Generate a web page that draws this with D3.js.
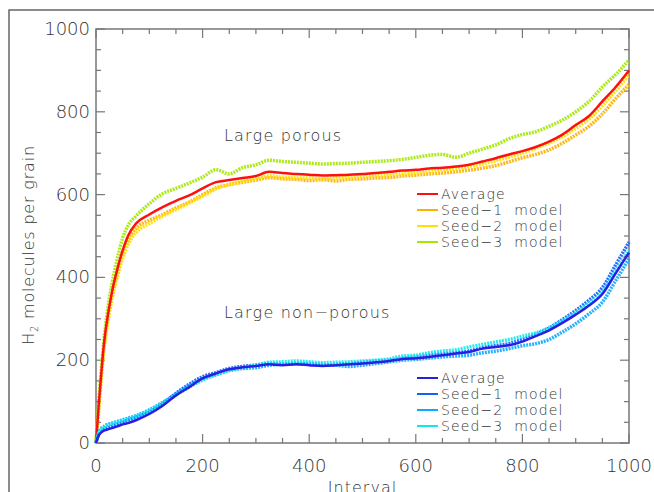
<!DOCTYPE html>
<html>
<head>
<meta charset="utf-8">
<script src="https://cdn.jsdelivr.net/npm/d3@7"></script>
<style>
  body { margin: 0; background: #fff; }
  text { font-family: 'DejaVu Sans', sans-serif; font-weight: 200; fill: #333; }
</style>
</head>
<body>
<div id="chart"></div>
<script>
var intervals = [0,5,10,15,20,30,40,50,60,75,100,125,150,175,200,225,250,275,300,325,350,375,400,425,450,475,500,525,550,575,600,625,650,675,700,725,750,775,800,825,850,875,900,925,950,975,1000];

// Large porous
var porousAvg   = [0,90,170,240,290,365,420,465,500,530,552,570,585,598,615,630,635,640,645,655,652,650,648,646,647,648,650,652,655,658,660,663,665,668,672,680,688,697,705,715,728,745,768,790,825,860,900];
var porousSeed1 = [0,85,165,232,280,355,410,455,488,518,538,552,568,582,600,616,624,630,635,641,638,637,634,636,633,637,638,640,641,645,647,650,652,655,659,664,670,679,689,697,708,724,744,765,795,832,866];
var porousSeed2 = [0,80,160,228,275,348,402,446,478,508,530,548,564,580,596,614,624,632,638,645,642,640,640,638,641,642,645,645,648,650,652,655,660,662,668,674,682,690,700,712,725,740,760,782,815,850,890];
var porousSeed3 = [0,95,178,248,305,385,445,495,525,548,578,602,615,628,642,660,650,665,672,683,680,678,676,674,675,676,678,680,682,685,690,695,697,690,700,710,720,735,745,752,765,780,800,825,860,890,925];

// Large non-porous
var nonporAvg   = [0,18,26,30,32,36,40,45,48,55,70,90,115,135,156,168,178,183,186,190,188,190,188,186,188,190,192,195,198,203,205,208,212,216,220,228,232,236,245,258,272,290,310,332,360,410,460];
var nonporSeed1 = [0,20,28,33,36,40,45,50,55,62,75,95,120,142,160,170,180,185,188,192,190,192,190,188,190,192,195,198,200,205,208,212,215,218,222,230,235,240,250,262,278,298,320,345,375,430,485];
var nonporSeed2 = [0,25,35,40,44,48,52,56,60,66,80,98,118,138,155,165,175,180,182,188,190,192,192,190,188,185,188,192,196,200,202,205,208,210,212,218,222,228,235,240,250,268,288,312,340,392,445];
var nonporSeed3 = [0,24,34,38,42,46,50,54,58,64,78,95,116,135,152,165,176,182,188,195,196,198,196,194,195,196,198,200,203,210,212,218,222,225,232,238,244,250,258,266,278,295,315,338,365,415,465];

var legendLabels = ['Average', 'Seed\u22121  model', 'Seed\u22122  model', 'Seed\u22123  model'];
var porousColors = ['#ff1010', '#ffb000', '#ffe000', '#a4e800'];
var nonporColors = ['#2a1ee0', '#1060ff', '#10a8ff', '#10e8f0'];

var W = 654, H = 492;
var x0 = 96, x1 = 629, yTop = 29, yBot = 443;

var svg = d3.select('#chart').append('svg')
  .attr('width', W)
  .attr('height', H);

// outer frame (only top and left edges are visible)
svg.append('path')
  .attr('d', 'M9,492V10H654')
  .attr('fill', 'none')
  .attr('stroke', '#666')
  .attr('stroke-width', 1.5);

var x = d3.scaleLinear().domain([0, 1000]).range([x0, x1]);
var y = d3.scaleLinear().domain([0, 1000]).range([yBot, yTop]);

var tickG = svg.append('g').attr('stroke', '#777').attr('stroke-width', 1.2);
var minor = d3.range(0, 1001, 50);
minor.forEach(function(v) {
  var len = (v % 200 === 0) ? 9 : 5;
  tickG.append('line').attr('x1', x(v)).attr('x2', x(v)).attr('y1', yBot).attr('y2', yBot - len);
  tickG.append('line').attr('x1', x(v)).attr('x2', x(v)).attr('y1', yTop).attr('y2', yTop + len);
  tickG.append('line').attr('x1', x0).attr('x2', x0 + len).attr('y1', y(v)).attr('y2', y(v));
  tickG.append('line').attr('x1', x1).attr('x2', x1 - len).attr('y1', y(v)).attr('y2', y(v));
});

svg.append('rect')
  .attr('x', x0).attr('y', yTop)
  .attr('width', x1 - x0).attr('height', yBot - yTop)
  .attr('fill', 'none')
  .attr('stroke', '#777')
  .attr('stroke-width', 1.5);

var major = d3.range(0, 1001, 200);
svg.selectAll('.xl').data(major).enter().append('text')
  .attr('x', function(d) { return x(d); })
  .attr('y', yBot + 29)
  .attr('text-anchor', 'middle')
  .attr('font-size', 18)
  .text(function(d) { return d; });

svg.selectAll('.yl').data(major).enter().append('text')
  .attr('x', x0 - 6)
  .attr('y', function(d) { return y(d) + 6; })
  .attr('text-anchor', 'end')
  .attr('font-size', 18)
  .text(function(d) { return d; });

svg.append('text')
  .attr('x', (x0 + x1) / 2)
  .attr('y', 493)
  .attr('text-anchor', 'middle')
  .attr('font-size', 16)
  .attr('letter-spacing', 1)
  .text('Interval');

var yt = svg.append('text')
  .attr('transform', 'translate(34,' + 245 + ') rotate(-90)')
  .attr('text-anchor', 'middle')
  .attr('font-size', 16)
  .attr('letter-spacing', 0.8);
yt.append('tspan').text('H');
yt.append('tspan').attr('font-size', 10).attr('dy', 4).text('2');
yt.append('tspan').attr('dy', -4).text(' molecules per grain');

var line = d3.line()
  .x(function(d) { return x(d[0]); })
  .y(function(d) { return y(d[1]); })
  .curve(d3.curveMonotoneX);

function drawGroup(avg, seeds, colors) {
  seeds.forEach(function(s, i) {
    svg.append('path')
      .datum(d3.zip(intervals, s))
      .attr('d', line)
      .attr('fill', 'none')
      .attr('stroke', colors[i + 1])
      .attr('stroke-width', 3.5)
      .attr('stroke-dasharray', '2,1')
      .attr('opacity', 0.9);
  });
  svg.append('path')
    .datum(d3.zip(intervals, avg))
    .attr('d', line)
    .attr('fill', 'none')
    .attr('stroke', colors[0])
    .attr('stroke-width', 2.5);
}

drawGroup(porousAvg, [porousSeed1, porousSeed2, porousSeed3], porousColors);
drawGroup(nonporAvg, [nonporSeed1, nonporSeed2, nonporSeed3], nonporColors);

svg.append('text').attr('x', 224).attr('y', 141).attr('font-size', 16)
  .attr('letter-spacing', 1.2).text('Large porous');
svg.append('text').attr('x', 224).attr('y', 318).attr('font-size', 16)
  .attr('letter-spacing', 1.2).text('Large non\u2212porous');

function legend(top, colors) {
  legendLabels.forEach(function(lbl, i) {
    var yy = top + i * 16;
    svg.append('line')
      .attr('x1', 417).attr('x2', 438)
      .attr('y1', yy).attr('y2', yy)
      .attr('stroke', colors[i])
      .attr('stroke-width', 2);
    svg.append('text')
      .attr('x', 441).attr('y', yy + 5)
      .attr('font-size', 14)
      .attr('letter-spacing', 1.1)
      .attr('xml:space', 'preserve')
      .style('white-space', 'pre')
      .text(lbl);
  });
}
legend(194, porousColors);
legend(378, nonporColors);
</script>
</body>
</html>
